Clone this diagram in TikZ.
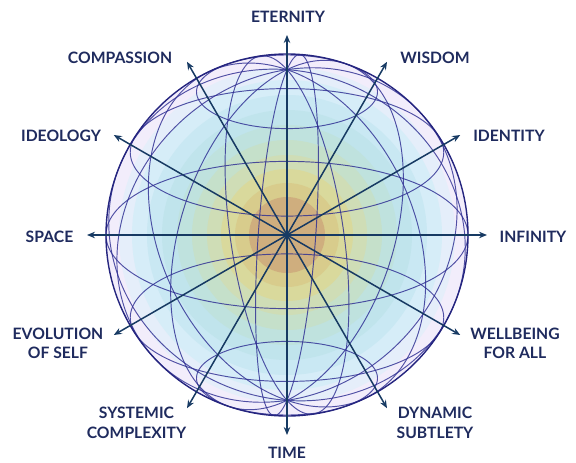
\documentclass[tikz,border=0pt]{standalone}
\usepackage{fontspec}
\setmainfont{Lato}
\usetikzlibrary{arrows.meta}
\definecolor{txt}{HTML}{1F2B5E}
\definecolor{wire}{HTML}{2D2D92}
\definecolor{rim}{HTML}{25257F}
\definecolor{arr}{HTML}{173A63}
\definecolor{ba}{HTML}{CFAE7E}
\definecolor{bb}{HTML}{D8CC8C}
\definecolor{bc}{HTML}{D9D99C}
\definecolor{bd}{HTML}{CFDDB6}
\definecolor{be}{HTML}{C5E0CA}
\definecolor{bf}{HTML}{BFE2DE}
\definecolor{bg}{HTML}{C0E4EC}
\definecolor{bh}{HTML}{C9E8F3}
\definecolor{bi}{HTML}{D6EDF8}
\definecolor{bj}{HTML}{E5EEFA}
\definecolor{bk}{HTML}{F2EDFB}
\begin{document}
\begin{tikzpicture}[x=1pt,y=-1pt,
  wireline/.style={draw=wire, line width=0.95pt, opacity=0.82},
  axisarrow/.style={draw=arr, line width=1.5pt, -{Stealth[length=8pt,width=6.5pt]}},
  lbl/.style={text=txt, font=\bfseries\fontsize{15.7}{19.5}\selectfont, align=center, inner sep=0pt}]
\useasboundingbox (0,0) rectangle (576,463);
\coordinate (c) at (287,235);
% shaded bands
\foreach \r/\col in {181/bk,168/bj,155/bi,140/bh,125/bg,110/bf,95/be,80/bd,66/bc,52/bb,38/ba}
  \fill[\col] (c) circle[radius=\r pt];
% meridians
\foreach \la in {20,50,80,110,140,170}
  \draw[wireline] plot[smooth cycle, domain=0:357.5, samples=144, variable=\t]
    ({287+181*cos(\t)*cos(\la)}, {235-181*(cos(\t)*sin(\la)*sin(24)+sin(\t)*cos(24))});
% parallels
\foreach \pa in {-60,-30,0,30,60}
  \draw[wireline] plot[smooth cycle, domain=0:357.5, samples=144, variable=\t]
    ({287+181*cos(\pa)*cos(\t)}, {235-181*(sin(\pa)*cos(24)+cos(\pa)*sin(\t)*sin(24))});
% outline
\draw[rim, line width=1.4pt] (c) circle[radius=181pt];
% axes
\foreach \a in {0,30,...,330}{
  \coordinate (t\a) at ({287+200*cos(\a)},{235-200*sin(\a)});
  \draw[axisarrow] (c) -- (t\a);
}
% labels
\node[lbl] (eternity) at (288,17) {ETERNITY};
\node[lbl] (wisdom) at (435,58) {WISDOM};
\node[lbl] (compassion) at (120,58) {COMPASSION};
\node[lbl] (ideology) at (61,136) {IDEOLOGY};
\node[lbl] (identity) at (509,136) {IDENTITY};
\node[lbl] (space) at (49.5,237) {SPACE};
\node[lbl] (infinity) at (533,237) {INFINITY};
\node[lbl] (evolution) at (58,343.5) {EVOLUTION\\OF SELF};
\node[lbl] (wellbeing) at (515,343.5) {WELLBEING\\FOR ALL};
\node[lbl] (systemic) at (136.5,423) {SYSTEMIC\\COMPLEXITY};
\node[lbl] (dynamic) at (435,423) {DYNAMIC\\SUBTLETY};
\node[lbl] (time) at (287,453) {TIME};
\end{tikzpicture}
\end{document}
